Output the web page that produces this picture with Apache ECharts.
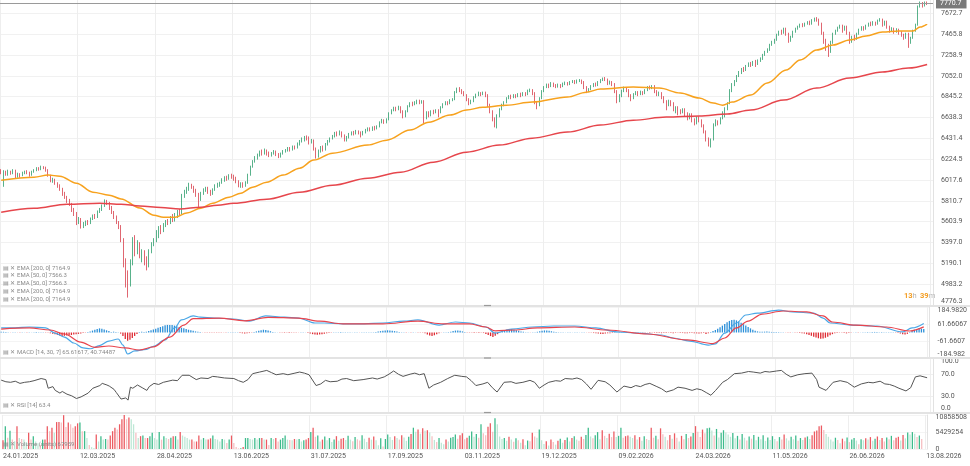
<!DOCTYPE html>
<html><head><meta charset="utf-8">
<script src="https://cdn.jsdelivr.net/npm/echarts@6/dist/echarts.min.js"></script>
<style>html,body{margin:0;padding:0;background:#fff}#c{width:970px;height:466px}</style>
</head><body><div id="c"></div>
<script>
// ---------- tick labels ----------
const tickLabels = ['24.01.2025','12.03.2025','28.04.2025','13.06.2025','31.07.2025','17.09.2025','03.11.2025','19.12.2025','09.02.2026','24.03.2026','11.05.2026','26.06.2026','13.08.2026'];
const priceTicks = [4776.3,4983.2,5190.1,5397.0,5603.9,5810.7,6017.6,6224.5,6431.4,6638.3,6845.2,7052.0,7258.9,7465.8,7672.7];
const priceMin = 4776.3, priceMax = 7805;
const macdTicks = [-184.982,-61.6607,61.66067,184.982];
const macdTickText = ['-184.982','-61.6607','61.66067','184.9820'];
const rsiTicks = [0,30,70,100];
const volTicks = [0,5429254,10858508];
const lastPrice = 7770.7;

// ---------- candles [open, close, low, high] ----------
const ohlc = [
[6110,6090,6075,6125],[6090,6100,5950,6115],[6100,6070,6060,6110],[6070,6095,6060,6120],[6095,6080,6070,6110],[6080,6110,6075,6125],[6110,6050,6030,6120],[6050,6075,6040,6090],[6075,6065,6040,6085],[6065,6085,6055,6100],
[6085,6100,6075,6110],[6100,6090,6075,6115],[6090,6070,6050,6100],[6070,6100,6060,6110],[6100,6115,6090,6125],[6115,6130,6105,6145],[6130,6125,6110,6145],[6125,6145,6115,6160],[6145,6140,6125,6155],[6140,6120,6100,6150],
[6120,6060,6050,6125],[6060,6010,5995,6070],[6010,6020,5990,6040],[6020,5985,5970,6030],[5985,5960,5940,5995],[5960,5930,5910,5975],[5930,5880,5860,5940],[5880,5850,5830,5900],[5850,5815,5790,5860],[5815,5780,5760,5830],
[5780,5725,5700,5790],[5725,5690,5660,5740],[5690,5600,5570,5700],[5600,5625,5580,5650],[5625,5560,5535,5640],[5560,5575,5540,5600],[5575,5600,5560,5615],[5600,5590,5570,5620],[5590,5630,5580,5645],[5630,5660,5620,5675],
[5660,5650,5630,5680],[5650,5700,5640,5715],[5700,5720,5690,5740],[5720,5760,5710,5775],[5760,5810,5750,5825],[5810,5790,5770,5820],[5790,5745,5720,5800],[5745,5700,5680,5760],[5700,5650,5630,5710],[5650,5600,5580,5665],
[5600,5560,5530,5610],[5560,5420,5400,5570],[5410,5250,5150,5440],[5230,5080,4950,5240],[5070,4990,4850,5120],[5000,5180,4960,5230],[5190,5420,5170,5450],[5400,5300,5260,5470],[5310,5380,5280,5420],[5370,5260,5240,5400],
[5270,5300,5200,5330],[5290,5190,5170,5320],[5200,5160,5120,5260],[5170,5310,5150,5330],[5300,5380,5290,5400],[5380,5420,5360,5440],[5420,5460,5400,5520],[5460,5530,5440,5560],[5530,5510,5480,5570],[5510,5570,5500,5590],
[5570,5600,5550,5620],[5600,5590,5570,5630],[5590,5640,5580,5660],[5640,5620,5600,5680],[5620,5660,5605,5690],[5660,5700,5640,5720],[5700,5680,5660,5730],[5690,5860,5680,5880],[5860,5900,5840,5920],[5900,5930,5880,5950],
[5930,5960,5910,5990],[5960,5950,5930,5980],[5945,5910,5890,5960],[5910,5870,5850,5930],[5870,5820,5750,5890],[5830,5890,5810,5900],[5890,5920,5870,5935],[5920,5935,5900,5950],[5935,5900,5880,5950],[5900,5880,5860,5920],
[5880,5920,5870,5935],[5920,5960,5910,5975],[5960,5970,5940,5990],[5970,5990,5950,6000],[5990,6020,5980,6035],[6020,6040,6000,6055],[6040,6030,6010,6060],[6030,6060,6020,6075],[6060,6050,6030,6080],[6050,6035,6010,6070],
[6035,6000,5985,6050],[6000,5960,5945,6015],[5960,5980,5940,5995],[5980,5960,5940,5995],[5960,5990,5950,6005],[5990,6070,5980,6080],[6070,6150,6060,6160],[6150,6200,6140,6215],[6200,6240,6190,6255],[6240,6260,6220,6280],
[6260,6300,6250,6310],[6300,6280,6260,6320],[6280,6310,6270,6330],[6310,6290,6260,6320],[6290,6260,6245,6300],[6260,6280,6250,6295],[6280,6300,6270,6315],[6300,6270,6255,6310],[6270,6250,6235,6285],[6250,6280,6240,6290],
[6280,6300,6270,6315],[6300,6310,6290,6325],[6310,6330,6300,6345],[6330,6320,6300,6345],[6320,6345,6310,6360],[6345,6340,6320,6360],[6340,6375,6330,6390],[6375,6400,6360,6415],[6400,6420,6390,6440],[6420,6440,6400,6455],
[6440,6430,6410,6460],[6430,6390,6370,6450],[6390,6410,6380,6425],[6410,6330,6310,6420],[6330,6250,6230,6340],[6260,6300,6240,6320],[6300,6340,6290,6355],[6340,6320,6300,6360],[6320,6370,6310,6385],[6370,6400,6360,6415],
[6400,6430,6390,6440],[6430,6450,6420,6465],[6450,6480,6440,6495],[6480,6470,6450,6500],[6470,6495,6460,6510],[6495,6460,6440,6500],[6460,6420,6400,6470],[6420,6440,6400,6455],[6440,6470,6430,6485],[6470,6490,6460,6500],
[6490,6480,6460,6505],[6480,6500,6470,6515],[6500,6490,6470,6510],[6490,6470,6440,6500],[6470,6495,6460,6505],[6495,6510,6480,6525],[6510,6525,6500,6540],[6525,6515,6500,6540],[6515,6540,6505,6550],[6540,6530,6510,6555],
[6530,6545,6520,6560],[6545,6590,6540,6600],[6590,6610,6580,6625],[6610,6590,6575,6620],[6590,6620,6580,6630],[6620,6680,6610,6690],[6680,6710,6670,6720],[6710,6730,6700,6745],[6730,6720,6700,6745],[6720,6740,6710,6755],
[6740,6700,6680,6750],[6700,6650,6630,6710],[6650,6700,6640,6710],[6700,6750,6690,6760],[6750,6780,6740,6790],[6780,6770,6750,6795],[6770,6790,6760,6800],[6790,6800,6770,6815],[6800,6785,6770,6815],[6785,6800,6775,6810],
[6800,6640,6580,6810],[6650,6680,6620,6700],[6680,6660,6640,6700],[6660,6700,6650,6710],[6700,6690,6670,6715],[6690,6710,6680,6720],[6710,6690,6640,6720],[6690,6740,6680,6750],[6740,6770,6730,6780],[6770,6790,6760,6800],
[6790,6780,6760,6800],[6780,6810,6770,6820],[6810,6820,6800,6830],[6820,6890,6810,6900],[6890,6920,6880,6935],[6920,6905,6890,6940],[6905,6890,6870,6920],[6890,6860,6850,6900],[6860,6820,6800,6870],[6820,6780,6760,6830],
[6780,6800,6770,6815],[6800,6840,6790,6850],[6840,6860,6830,6875],[6860,6880,6850,6895],[6880,6870,6850,6890],[6870,6885,6860,6895],[6885,6860,6840,6895],[6860,6760,6740,6870],[6760,6700,6680,6775],[6700,6620,6600,6710],
[6620,6600,6540,6640],[6600,6650,6530,6670],[6650,6720,6640,6730],[6720,6760,6710,6775],[6760,6790,6750,6800],[6790,6830,6780,6840],[6830,6850,6820,6860],[6850,6840,6820,6865],[6840,6860,6830,6870],[6860,6850,6830,6870],
[6850,6870,6840,6880],[6870,6860,6840,6885],[6860,6880,6850,6890],[6880,6870,6850,6890],[6870,6900,6860,6915],[6900,6910,6890,6925],[6910,6880,6860,6920],[6880,6790,6770,6890],[6790,6760,6720,6800],[6760,6830,6750,6840],
[6830,6900,6820,6910],[6900,6940,6890,6950],[6940,6960,6930,6975],[6960,6950,6930,6975],[6950,6975,6940,6990],[6975,6960,6940,6985],[6960,6945,6930,6970],[6945,6965,6935,6975],[6965,6950,6930,6970],[6950,6970,6940,6985],
[6970,6980,6960,6995],[6980,6970,6955,6990],[6970,6990,6960,7000],[6990,7000,6980,7010],[7000,6985,6970,7010],[6985,7005,6975,7015],[7005,7010,6990,7020],[7010,6990,6970,7015],[6990,6940,6920,7000],[6940,6900,6880,6950],
[6900,6920,6890,6930],[6920,6950,6910,6960],[6950,6970,6940,6980],[6970,6960,6945,6985],[6960,6990,6950,7000],[6990,7010,6980,7020],[7010,7025,7000,7035],[7025,7015,7000,7040],[7015,6980,6960,7025],[6980,6995,6965,7005],
[6995,6970,6950,7000],[6970,6900,6880,6980],[6900,6800,6780,6910],[6800,6850,6790,6870],[6850,6900,6840,6915],[6900,6930,6890,6945],[6930,6910,6890,6940],[6910,6860,6840,6920],[6860,6830,6800,6870],[6830,6870,6820,6880],
[6870,6890,6860,6900],[6890,6870,6850,6900],[6870,6895,6860,6905],[6895,6880,6860,6900],[6880,6910,6870,6920],[6910,6940,6900,6950],[6940,6930,6915,6955],[6930,6950,6920,6960],[6950,6900,6880,6960],[6900,6870,6850,6910],
[6870,6880,6850,6895],[6880,6840,6820,6890],[6840,6800,6780,6850],[6800,6760,6710,6810],[6760,6800,6750,6815],[6800,6780,6750,6810],[6780,6720,6700,6790],[6720,6740,6680,6750],[6740,6700,6660,6750],[6700,6690,6670,6720],
[6690,6720,6680,6730],[6720,6680,6650,6730],[6680,6640,6610,6690],[6640,6670,6620,6680],[6670,6620,6590,6680],[6620,6580,6560,6630],[6580,6640,6570,6650],[6640,6610,6590,6650],[6610,6560,6540,6620],[6560,6500,6480,6570],
[6500,6430,6400,6510],[6430,6390,6350,6440],[6390,6420,6340,6430],[6420,6560,6410,6580],[6560,6600,6550,6620],[6600,6580,6560,6610],[6580,6630,6570,6640],[6630,6650,6620,6700],[6650,6720,6640,6740],[6720,6780,6710,6790],
[6780,6900,6770,6920],[6900,6960,6890,6980],[6960,7000,6950,7010],[7000,7050,6990,7060],[7050,7080,7040,7100],[7080,7120,7070,7130],[7120,7110,7090,7140],[7110,7150,7100,7160],[7150,7170,7140,7185],[7170,7160,7140,7190],
[7160,7190,7150,7200],[7190,7170,7140,7210],[7170,7200,7160,7215],[7200,7220,7190,7235],[7220,7260,7210,7270],[7260,7290,7250,7300],[7290,7310,7280,7325],[7310,7360,7300,7370],[7360,7390,7350,7400],[7390,7410,7370,7420],
[7410,7460,7400,7470],[7460,7490,7450,7500],[7490,7480,7460,7510],[7480,7520,7470,7530],[7520,7470,7450,7530],[7470,7400,7380,7480],[7400,7440,7390,7450],[7440,7490,7430,7500],[7490,7520,7480,7530],[7520,7540,7510,7550],
[7540,7560,7530,7570],[7560,7550,7535,7575],[7550,7570,7540,7580],[7570,7580,7560,7595],[7580,7570,7555,7600],[7570,7600,7560,7615],[7600,7620,7590,7630],[7620,7610,7590,7635],[7610,7570,7550,7620],[7570,7480,7460,7580],
[7480,7400,7370,7490],[7400,7350,7300,7420],[7350,7300,7240,7370],[7300,7380,7280,7400],[7380,7470,7370,7480],[7470,7500,7460,7510],[7500,7530,7490,7540],[7530,7550,7520,7560],[7550,7510,7480,7560],[7510,7540,7500,7550],
[7540,7480,7460,7550],[7480,7400,7370,7490],[7400,7440,7380,7450],[7440,7420,7400,7460],[7420,7470,7410,7480],[7470,7510,7460,7520],[7510,7530,7500,7545],[7530,7520,7500,7545],[7520,7550,7510,7560],[7550,7570,7540,7580],
[7570,7560,7545,7590],[7560,7580,7550,7595],[7580,7570,7550,7590],[7570,7600,7560,7610],[7600,7610,7590,7625],[7610,7560,7540,7620],[7560,7590,7550,7600],[7590,7540,7520,7600],[7540,7500,7480,7550],[7500,7520,7490,7535],
[7520,7490,7470,7530],[7490,7510,7480,7525],[7510,7480,7460,7520],[7480,7460,7440,7495],[7460,7430,7410,7470],[7430,7470,7420,7480],[7470,7380,7330,7480],[7380,7430,7370,7440],[7430,7500,7420,7510],[7500,7560,7490,7570],
[7560,7740,7550,7750],[7740,7760,7730,7790],[7760,7745,7730,7785],[7745,7775,7740,7790],[7775,7770.7,7755,7790]
];

// ---------- volume (millions) ----------
const volumesM = [
2.8,7.3,3.6,5.8,3.0,2.5,7.3,3.5,3.2,3.0, 2.2,5.2,3.0,4.1,2.4,1.8,1.3,3.0,3.0,7.3,
5.7,6.8,5.2,8.6,8.6,8.5,10.8,7.0,8.5,7.9, 6.8,7.3,8.2,8.5,5.7,5.7,3.5,1.3,0.6,0.3,
4.6,2.4,4.1,3.0,3.2,3.0,4.3,5.7,6.8,6.2, 7.9,9.5,10.858508,9.5,10.1,9.5,7.9,5.2,3.5,4.1,
4.3,3.5,3.5,4.1,5.2,3.5,3.0,5.4,3.0,4.1, 3.5,3.2,3.6,4.1,4.1,3.0,5.4,4.3,3.9,3.5,
3.0,3.0,2.4,2.4,4.3,3.0,3.5,3.0,3.0,3.4, 4.3,3.2,3.0,2.4,3.2,3.0,1.9,3.0,4.3,1.9,
0.6,0.2,0.2,0.6,3.5,3.5,3.2,3.0,3.5,3.0, 3.5,3.5,3.0,3.0,1.3,3.5,3.2,3.5,2.4,3.0,
3.5,4.3,3.0,2.9,2.8,3.2,3.0,3.2,2.4,2.8, 3.0,3.5,5.4,6.8,3.9,4.3,2.4,3.0,4.0,2.8,
3.5,2.2,3.0,4.1,2.6,3.3,3.5,2.9,4.2,3.0, 2.5,3.8,3.1,2.7,4.4,3.3,2.2,3.6,3.0,4.0,
2.8,1.2,3.4,0.8,3.2,4.6,3.8,2.9,4.1,3.5, 3.0,4.4,3.7,2.6,3.9,4.8,6.8,5.5,6.2,4.9,
6.6,5.8,6.0,5.3,4.1,2.9,2.2,3.5,2.0,1.5, 3.0,2.4,3.6,3.8,4.6,3.3,4.4,5.0,3.1,3.6,
4.2,5.6,3.9,4.8,3.6,7.9,5.0,4.4,7.1,8.2, 5.5,9.8,7.9,4.0,3.2,3.5,2.6,3.9,3.0,2.3,
3.4,2.8,2.0,3.1,1.2,2.7,2.5,5.2,4.0,3.6, 6.2,2.8,1.6,2.5,1.1,3.0,2.2,1.4,2.6,3.3,
2.0,2.9,3.7,2.4,3.5,4.1,3.0,2.6,3.9,3.2, 4.5,6.8,4.0,3.4,4.4,5.4,3.1,6.0,4.2,3.5,
4.9,3.8,5.6,3.8,4.2,6.8,3.6,4.1,4.3,3.9, 3.5,4.4,3.0,3.8,2.6,4.1,3.2,2.9,6.8,3.6,
4.2,3.1,6.6,4.7,3.9,2.8,4.5,3.3,5.0,3.6, 2.4,4.2,3.1,4.8,3.5,4.0,5.1,7.3,5.5,3.8,
6.2,5.0,6.6,6.8,5.9,4.3,6.4,3.7,5.2,6.0, 5.3,4.6,3.9,5.1,3.4,4.2,3.0,4.8,3.6,2.7,
4.0,3.3,4.5,2.8,3.9,3.1,4.4,2.6,3.7,2.9, 4.1,3.2,2.5,3.8,3.0,4.6,3.4,2.7,3.9,3.1,
4.3,2.6,3.5,2.9,3.7,4.0,3.2,4.4,5.6,5.9, 7.3,7.5,6.1,4.8,3.9,3.0,2.4,3.6,2.9,1.8,
3.3,2.5,3.7,2.2,3.0,3.5,2.7,1.5,3.1,2.8, 3.4,3.0,3.8,2.6,3.3,4.0,2.9,3.5,2.4,3.7,
3.1,4.2,2.8,3.6,3.9,2.7,4.5,3.4,5.3,4.6, 5.4,4.9,3.8,4.3,3.2
];

// ---------- MACD histogram segments [startIndex, values] ----------
const macdHistSegments = [
[0,[6,5,3]],[3,[1,-1,1,1,-1,-1,1,1,-1,1,1]],[14,[2,3,2,1,1,-1,-2]],
[21,[-5,-9,-13,-17,-21,-25,-24,-22,-20,-18,-15,-13,-10,-7,-4,-2]],
[37,[3,8,14,20,26,30,28,22,16,10,4]],[48,[6,3,1,-8,-25,-48,-60,-52,-40,-25,-10]],[59,[3,5,4,6]],
[63,[10,16,22,28,34,40,46,52,55,55,54,50,45,40,35,30,25,20,16,12,8,5,3]],
[86,[-1,-2,-1,-2,-1,-1,-2,-1,-1,-1,-1]],[97,[1,2,2,1,1]],[102,[-3,-5,-7,-6,-4,-2]],
[108,[4,8,12,16,20,18,14,9,4]],[117,[1,1,-1]],[120,[-2,-3,-2,-3,-2,-1,-2,-1]],[128,[1,2,1]],
[131,[-4,-8,-12,-15,-16,-14,-12,-9,-6,-3,-1]],[142,[1,2,2,3,2,2,1,2,1,1]],[152,[1,-1,1,1,2,1,1,2]],
[160,[4,7,10,13,15,16,15,13,10,7,4,2]],[172,[1,-1,1,-1,1,1,-1,-1,-2,-6]],[182,[-14,-22,-26,-20,-12,-5]],
[188,[-1,1,2,3]],[192,[6,10,14,15,12,8,4]],[199,[-1,-2,-2,-3,-2,-3,-2,-4]],[207,[-10,-18,-26,-32,-24,-12]],
[213,[4,10,16,22,26,24,20,16,12,8,5,2]],[225,[1,-1,1,2]],[229,[5,9,13,15,14,12,9,6,4,2]],
[239,[1,2,1,2,1,1,2,1,1,1,1,-1,-1]],[252,[-2,-4,-6,-8,-10,-10,-8,-6,-5,-3,-1]],[263,[1,1,2,1,2,2,1,1,1,-1]],
[273,[-1,-2,-2,-1,-3,-2,-3,-4,-3,-5,-4,-3,-2,-4,-5,-3,-2,-3,-4,-5,-6,-4,-3,-5,-6,-8,-6,-4]],[301,[-10,-6]],
[303,[4,10,18,28,38,50,62,74,84,90,92,88,80,70,60,50,40,30,20,12]],[323,[8,6,5,6,7,5,4,3,4,3,2,1]],
[335,[-1,-2,-1,1,-1,-2]],[341,[-3,-5,-8,-12,-18,-24]],[347,[-30,-36,-42,-46,-44,-38,-30,-20,-12,-6]],
[357,[-3,-2,-1,-4,-6,-3]],[363,[-1,1,1,-1,1,1]],[369,[2,3,2,3,4,3,2,3,2,1,2,1,1,-1]],
[383,[-4,-8,-12,-14,-10]],[388,[4,12,20,26,30,28,25]]
];

// ---------- indicator lines [barIndex, value] ----------
const ema50Pts = [[0,6016],[14,6046],[20,6066],[25,6056],[32,5986],[39,5897],[46,5867],[51,5830],[59,5740],[65,5668],[69,5648],[74,5648],[79,5690],[85,5737],[90,5787],[97,5847],[102,5887],[107,5946],[113,5996],[120,6066],[127,6135],[133,6215],[141,6284],[156,6364],[164,6413],[174,6513],[182,6592],[191,6662],[198,6712],[205,6741],[215,6761],[226,6791],[241,6841],[249,6890],[255,6920],[269,6940],[280,6930],[289,6881],[297,6831],[303,6781],[307,6761],[311,6791],[319,6861],[326,6980],[334,7109],[340,7209],[347,7308],[354,7358],[361,7407],[368,7447],[375,7487],[382,7497],[388,7497],[391,7537],[394,7566.3]];
const ema200Pts = [[0,5698],[14,5737],[28,5777],[42,5787],[51,5777],[59,5760],[68,5745],[76,5730],[85,5747],[92,5767],[99,5787],[113,5827],[127,5897],[141,5966],[156,6036],[170,6095],[184,6195],[198,6294],[212,6364],[226,6433],[241,6493],[255,6563],[269,6612],[283,6642],[297,6652],[309,6672],[319,6712],[333,6811],[347,6930],[361,7030],[375,7089],[386,7129],[394,7164.9]];
const macdPts = [[0,33],[6,33],[12,40],[19,33],[23,-4],[27,-33],[31,-76],[35,-112],[38,-118],[42,-95],[46,-62],[50,-47],[52,-91],[54,-156],[57,-134],[62,-122],[65,-100],[70,-54],[74,33],[77,91],[82,120],[85,112],[91,105],[99,98],[106,83],[113,120],[121,112],[127,105],[134,69],[138,69],[146,62],[155,62],[163,69],[172,83],[178,91],[187,54],[194,76],[200,69],[207,40],[211,-4],[218,25],[227,40],[236,47],[245,47],[254,33],[263,4],[272,-4],[282,-18],[287,-40],[294,-62],[302,-91],[305,-83],[309,-4],[314,69],[318,127],[323,141],[332,163],[338,149],[347,141],[351,105],[354,69],[363,54],[374,47],[385,4],[389,33],[394,65.61617]];
const signalPts = [[0,25],[12,33],[21,18],[27,-11],[34,-70],[40,-108],[46,-98],[53,-112],[59,-127],[65,-105],[72,-33],[78,54],[82,100],[93,105],[104,85],[114,110],[127,105],[136,83],[146,62],[163,62],[178,83],[189,62],[200,62],[207,40],[211,12],[219,18],[229,33],[245,40],[259,18],[276,-11],[293,-54],[304,-80],[309,-40],[314,33],[319,83],[325,134],[334,156],[344,149],[351,120],[355,76],[365,54],[378,40],[388,11],[394,40.74487]];
const rsiPts = [[0,59],[2,56],[4,55],[6,57],[8,53],[10,55],[12,56],[14,58],[17,62],[19,60],[20,44],[22,47],[23,40],[25,35],[26,38],[28,33],[30,30],[32,25],[34,28],[37,35],[39,44],[42,49],[43,53],[45,50],[46,48],[48,42],[49,36],[51,24],[53,26],[54,22],[55,46],[56,44],[58,50],[60,45],[62,40],[63,47],[65,53],[67,51],[69,55],[71,57],[73,59],[75,58],[77,68],[80,68],[83,60],[85,63],[88,62],[90,66],[92,65],[95,63],[99,62],[101,58],[103,55],[105,60],[107,71],[110,74],[113,77],[115,73],[117,69],[120,71],[122,69],[125,72],[127,74],[129,72],[131,69],[134,49],[136,52],[138,58.6],[140,56],[143,57],[145,61],[147,62],[150,58],[154,60],[158,63],[160,61],[163,65],[165,70],[167,76],[169,70],[171,66],[174,70],[176,72],[178,69],[180,71],[182,44],[184,50],[187,55],[190,62],[193,68],[196,66],[198,65],[200,58],[202,49],[205,52],[207,55],[209,45],[211,37],[214,55],[217,56],[219,53],[222,55],[225,58.6],[227,55],[229,44],[231,50],[233,55],[236,58],[238,57],[240,62],[243,61],[245,63],[247,60],[249,52],[251,42],[254,58.6],[257,56],[259,50],[262,37],[265,48],[268,45],[270,49],[272,47],[274,51],[276,53],[279,47],[281,43],[283,37],[286,41],[288,46],[291,44],[294,40],[296,43],[298,41],[300,36],[302,31],[304,40],[307,55],[309,60],[312,71],[315,72],[318,75],[320,74],[323,72],[325,75],[327,74],[330,76],[332,77],[334,70],[336,65],[339,69],[342,71],[345,72],[347,60],[348,46],[351,40],[352,45],[354,55],[357,58],[360,55],[362,49],[363,46],[366,52],[369,55],[371,54],[374,57],[376,52],[378,51],[380,48],[382,44],[385,39],[387,45],[389,65],[391,67],[394,63.4]];

// ---------- legend texts ----------
const emaLegend = ['EMA [200, 0] 7164.9','EMA [50, 0] 7566.3','EMA [50, 0] 7566.3','EMA [200, 0] 7164.9','EMA [200, 0] 7164.9'];
const macdLegend = 'MACD [14, 30, 7] 65.61617, 40.74487';
const rsiLegend = 'RSI [14] 63.4';
const volLegend = 'Volume (units) 67959';

// ---------- build ----------
const NCAT = 397, STEP = 33;
const dates = [];
(function () {
  const d = new Date(Date.UTC(2025, 0, 24));
  while (dates.length < NCAT) {
    const w = d.getUTCDay();
    if (w > 0 && w < 6) dates.push(String(d.getUTCDate()).padStart(2,'0') + '.' + String(d.getUTCMonth()+1).padStart(2,'0') + '.' + d.getUTCFullYear());
    d.setUTCDate(d.getUTCDate() + 1);
  }
})();
const isTick = (i) => i % STEP === 0;

const UP = '#2f9e6d', DOWN = '#d8404c';
const macdHist = new Array(ohlc.length).fill(0);
macdHistSegments.forEach(([s, vals]) => vals.forEach((v, k) => { if (s + k < macdHist.length) macdHist[s + k] = v; }));
const histData = macdHist.map(v => ({ value: v, itemStyle: { color: v >= 0 ? '#2b8fd8' : '#de2a32' } }));
const volData = volumesM.map((m, i) => {
  const up = ohlc[i][1] >= ohlc[i][0];
  const strong = i === 0 || m >= volumesM[i - 1];
  const c = up ? (strong ? '#3cbb8b' : '#bde7d5') : (strong ? '#ec5a61' : '#f6bfc2');
  return { value: Math.round(m * 1e6), itemStyle: { color: c } };
});

const FONT = 'Roboto';
const lbl = { fontSize: 7, color: '#555', fontFamily: FONT, margin: 8, align: 'left' };
const rich = {
  t: { padding: [7, 0, 0, 0], fontSize: 7, color: '#555', fontFamily: FONT },
  b: { padding: [0, 0, 7, 0], fontSize: 7, color: '#555', fontFamily: FONT }
};
const grids = [
  { left: 0, right: 37, top: 0, height: 305 },
  { left: 0, right: 37, top: 307, height: 51 },
  { left: 0, right: 37, top: 358, height: 54 },
  { left: 0, right: 37, top: 415, height: 34 }
];
const xAxis = grids.map((g, k) => ({
  type: 'category', gridIndex: k, data: dates, boundaryGap: true,
  axisLine: { show: false }, axisTick: { show: false },
  splitLine: { show: true, interval: (i) => isTick(i), lineStyle: { color: '#eeeeee', width: 1 } },
  axisLabel: k === 3 ? { show: true, interval: (i) => isTick(i), formatter: (v, i) => tickLabels[Math.round(i / STEP)] || '', align: 'left', fontSize: 7, color: '#555', fontFamily: FONT, margin: 4 } : { show: false }
}));
function yAx(k, min, max, ticks, fmt, splitColor) {
  return {
    type: 'value', gridIndex: k, position: 'right', min: min, max: max,
    axisLine: { show: true, lineStyle: { color: '#e2e2e2' } },
    axisTick: { show: false, customValues: ticks },
    splitLine: { show: true, lineStyle: { color: splitColor } },
    axisLabel: Object.assign({}, lbl, { customValues: ticks, formatter: fmt, rich: rich })
  };
}
const yAxis = [
  yAx(0, priceMin, priceMax, priceTicks, (v) => v === priceTicks[0] ? '{b|' + v.toFixed(1) + '}' : v.toFixed(1), '#f1f1f1'),
  yAx(1, macdTicks[0], macdTicks[3], macdTicks, (v) => {
    let best = 0; macdTicks.forEach((t, j) => { if (Math.abs(t - v) < Math.abs(macdTicks[best] - v)) best = j; });
    const s = macdTickText[best];
    return best === 3 ? '{t|' + s + '}' : best === 0 ? '{b|' + s + '}' : s;
  }, '#f4f4f4'),
  yAx(2, 0, 100, rsiTicks, (v) => v === 100 ? '{t|100.0}' : v === 0 ? '{b|0.0}' : v.toFixed(1), '#efefef'),
  yAx(3, 0, volTicks[2], volTicks, (v) => v === volTicks[2] ? '{t|' + v + '}' : String(v), '#f4f4f4')
];
yAxis[3].axisLabel.rich = { t: { padding: [4, 0, 0, 0], fontSize: 7, color: '#555', fontFamily: FONT } };

const series = [
  { type: 'candlestick', xAxisIndex: 0, yAxisIndex: 0, data: ohlc, barWidth: '55%',
    itemStyle: { color: UP, color0: DOWN, borderColor: UP, borderColor0: DOWN, borderWidth: 0.8 },
    markLine: { symbol: ['none', 'none'], silent: true, animation: false,
      lineStyle: { color: '#9a9a9a', width: 1, type: 'solid' },
      label: { show: true, position: 'end', formatter: lastPrice.toFixed(1), color: '#fff', backgroundColor: '#7a7a7a', padding: [2, 5, 1, 4], fontSize: 7, fontFamily: FONT, distance: 3 },
      data: [{ yAxis: lastPrice }] } },
  { type: 'line', xAxisIndex: 0, yAxisIndex: 0, data: ema50Pts, smooth: 0.35, smoothMonotone: 'x', showSymbol: false, lineStyle: { color: '#f7a21e', width: 1.5 }, z: 3 },
  { type: 'line', xAxisIndex: 0, yAxisIndex: 0, data: ema200Pts, smooth: 0.35, smoothMonotone: 'x', showSymbol: false, lineStyle: { color: '#e6464c', width: 1.5 }, z: 3 },
  { type: 'bar', xAxisIndex: 1, yAxisIndex: 1, data: histData, barWidth: '55%' },
  { type: 'line', xAxisIndex: 1, yAxisIndex: 1, data: macdPts, smooth: 0.35, smoothMonotone: 'x', showSymbol: false, lineStyle: { color: '#4aa7e6', width: 1.2 }, z: 3 },
  { type: 'line', xAxisIndex: 1, yAxisIndex: 1, data: signalPts, smooth: 0.35, smoothMonotone: 'x', showSymbol: false, lineStyle: { color: '#e8444d', width: 1.2 }, z: 3 },
  { type: 'line', xAxisIndex: 2, yAxisIndex: 2, data: rsiPts, showSymbol: false, lineStyle: { color: '#555', width: 1 } },
  { type: 'bar', xAxisIndex: 3, yAxisIndex: 3, data: volData, barWidth: '55%' }
];

const txt = (x, y, text, size, fill) => ({ type: 'text', x: x, y: y, silent: true, z: 50, style: { text: text, fill: fill || '#8a8a8a', font: (size || 6) + 'px ' + FONT, verticalAlign: 'middle' } });
const sep = (y) => ({ type: 'line', silent: true, z: 40, shape: { x1: 0, y1: y, x2: 970, y2: y }, style: { stroke: '#e3e3e3', lineWidth: 2 } });
const handle = (y) => ({ type: 'line', silent: true, z: 41, shape: { x1: 484, y1: y, x2: 491, y2: y }, style: { stroke: '#9a9a9a', lineWidth: 1.2 } });
const graphic = [
  sep(306), sep(358), sep(413),
  handle(305.5), handle(358), handle(412.5),
  ...emaLegend.map((t, k) => txt(3, 268 + k * 7.8, '▤ ✕ ' + t)),
  txt(3, 352, '▤ ✕ ' + macdLegend),
  txt(3, 405, '▤ ✕ ' + rsiLegend),
  txt(3, 444, '▤ ✕ ' + volLegend),
  { type: 'text', x: 904, y: 296, silent: true, z: 50, style: { text: '{o|13}{g|h} {o|39}{g|m}', verticalAlign: 'middle',
    rich: { o: { fill: '#f39c1f', fontSize: 7.5, fontWeight: 'bold', fontFamily: FONT }, g: { fill: '#b5b5b5', fontSize: 7.5, fontFamily: FONT } } } }
];

const chart = echarts.init(document.getElementById('c'));
chart.setOption({
  animation: false, backgroundColor: '#fff',
  textStyle: { fontFamily: FONT },
  grid: grids, xAxis: xAxis, yAxis: yAxis, series: series, graphic: graphic
});
</script>
</body></html>
